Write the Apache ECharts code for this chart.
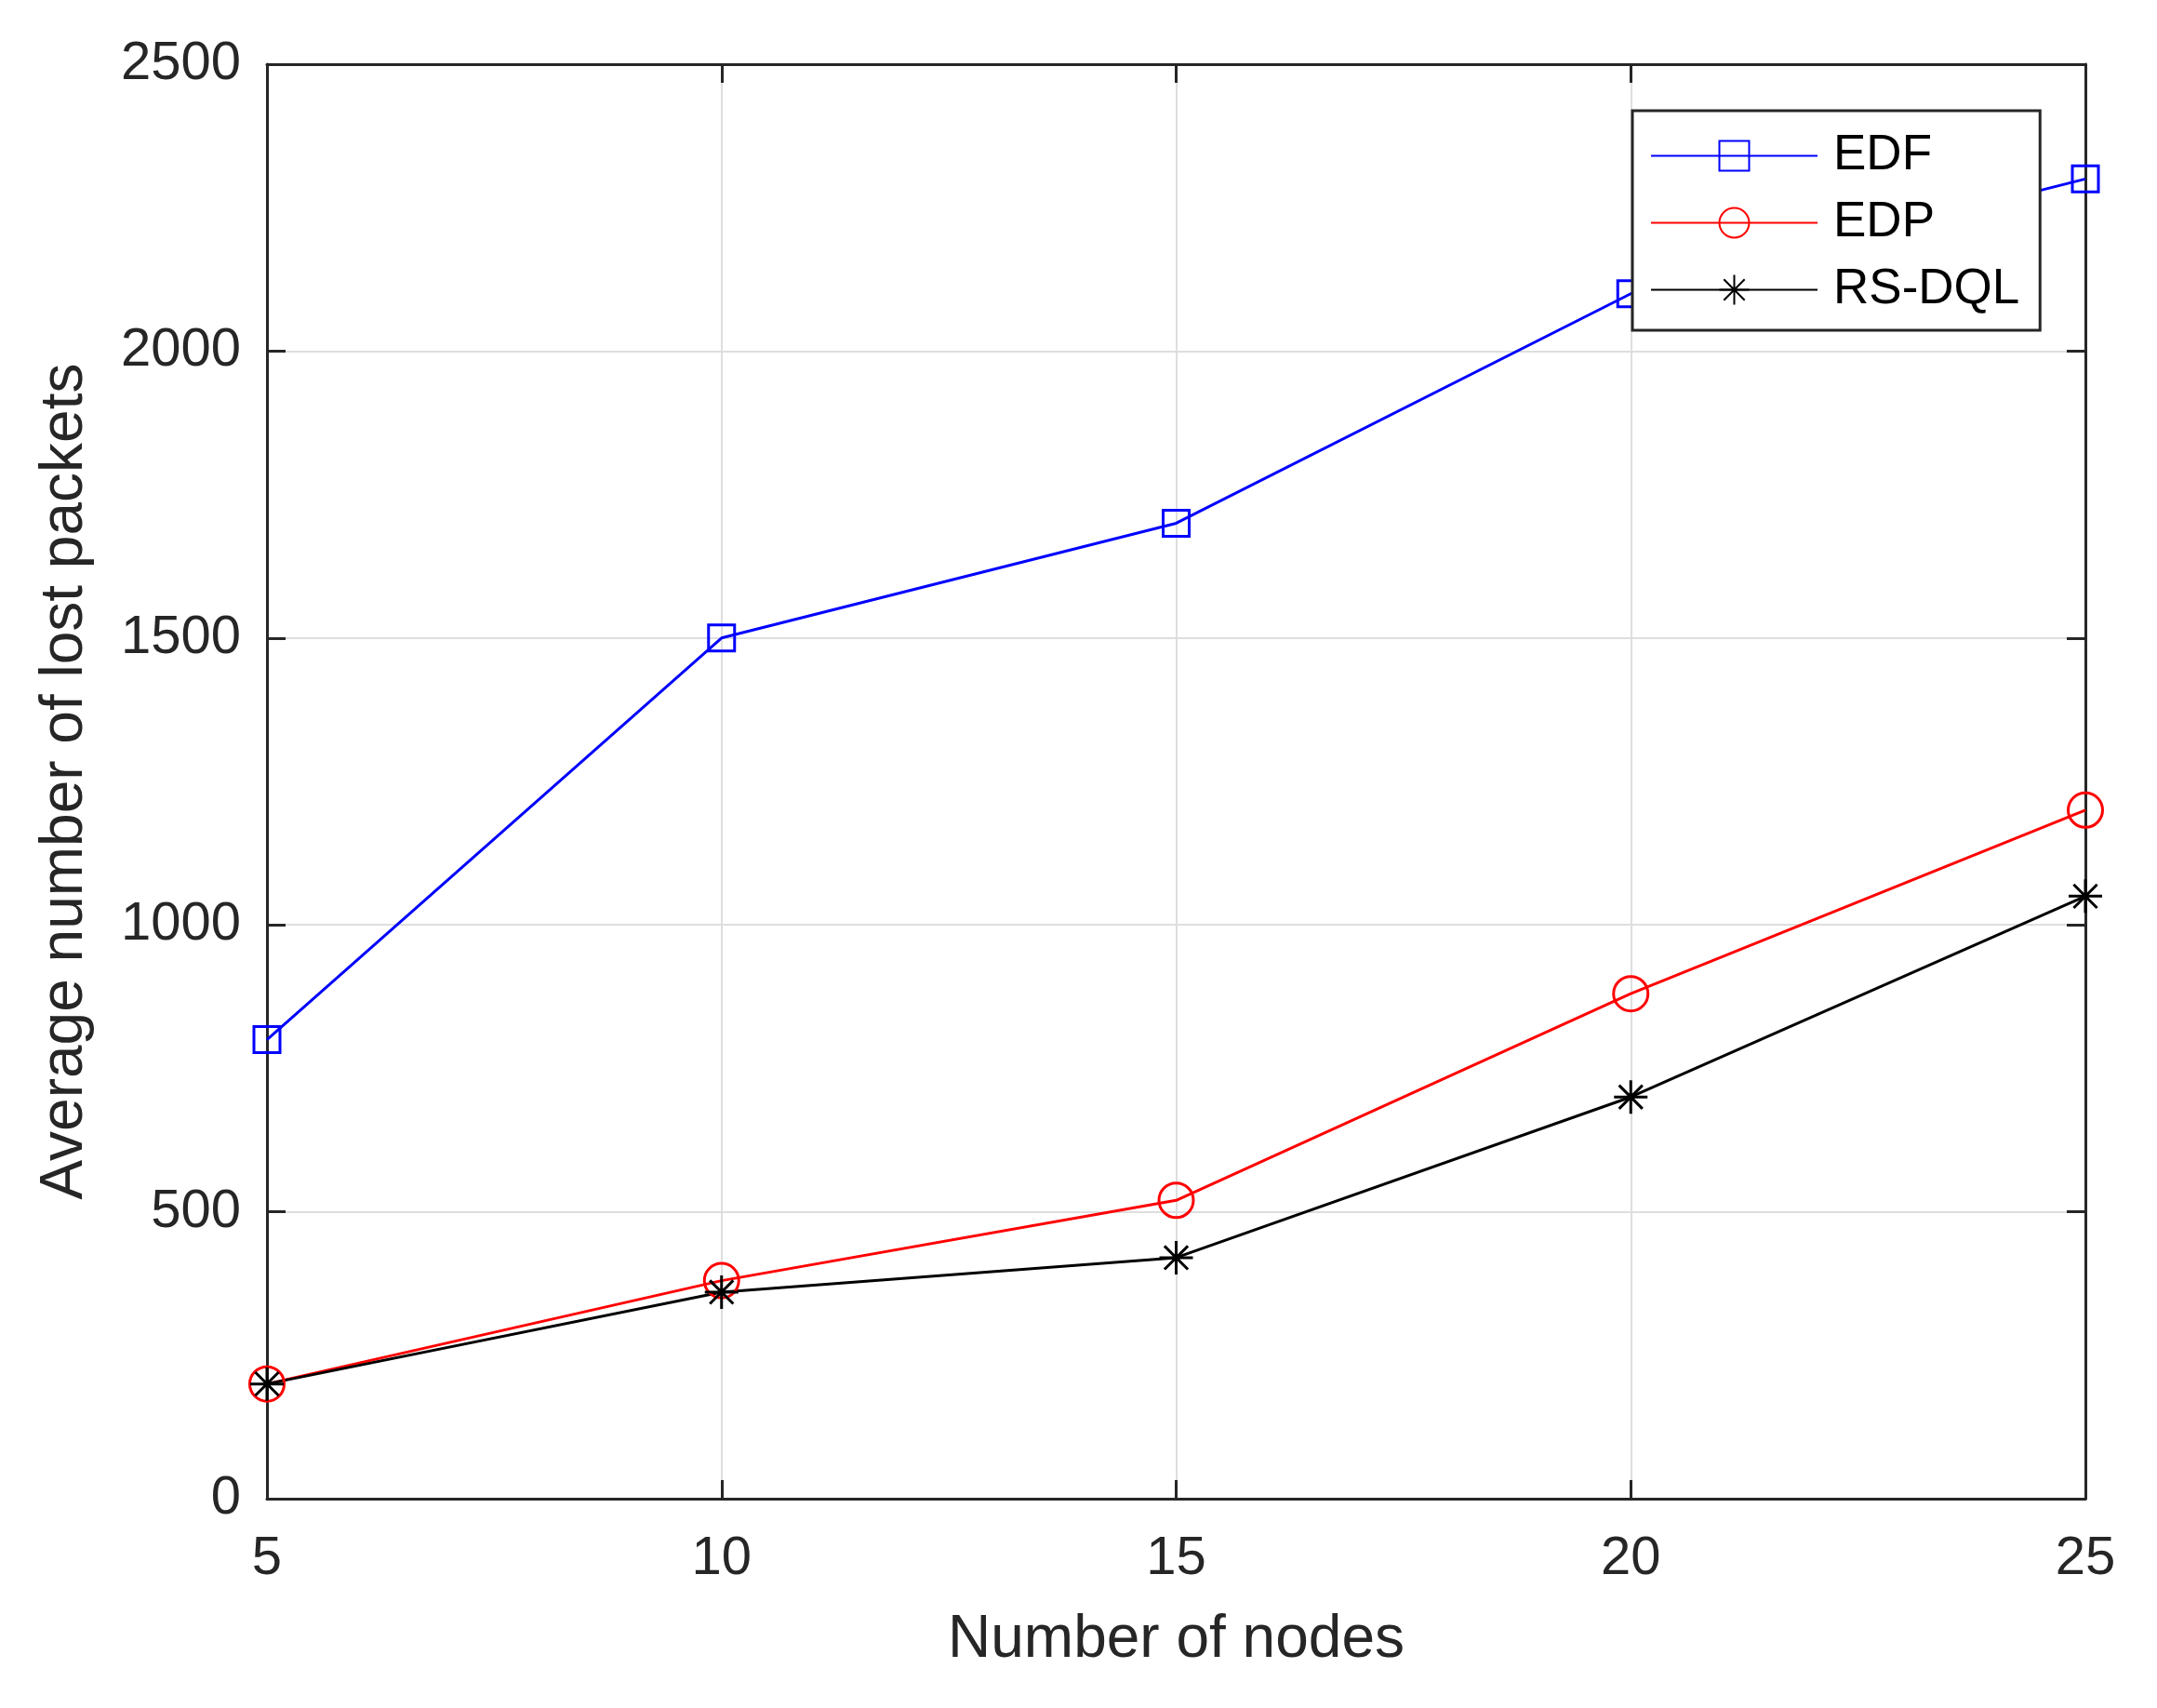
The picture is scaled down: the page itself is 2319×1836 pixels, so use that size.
<!DOCTYPE html>
<html>
<head>
<meta charset="utf-8">
<script src="https://cdn.jsdelivr.net/npm/echarts@6/dist/echarts.min.js"></script>
<style>
html,body{margin:0;padding:0;background:#fff;}
#chart{width:2319px;height:1836px;}
</style>
</head>
<body>
<div id="chart"></div>
<script>
var nodes = [5, 10, 15, 20, 25];
var edf = [800, 1500, 1700, 2100, 2300];
var edp = [200, 380, 520, 880, 1200];
var rsdql = [200, 360, 420, 700, 1050];
var seriesNames = ['EDF', 'EDP', 'RS-DQL'];

function pairs(xs, ys) { return xs.map(function (x, i) { return [x, ys[i]]; }); }

var FONT = '"Liberation Sans", Arial, Helvetica, sans-serif';
var AX = '#262626';
var STAR = 'path://M0 -10L0 10M-10 0L10 0M-7 -7L7 7M-7 7L7 -7';

var chart = echarts.init(document.getElementById('chart'), null, {renderer: 'canvas'});
var boxAxisLine = {show: true, onZero: false, lineStyle: {color: AX, width: 3}};
var boxTick = {show: true, inside: true, length: 20, lineStyle: {color: AX, width: 3}};
var plain = function (v) { return String(v); };
chart.setOption({
  backgroundColor: '#ffffff',
  animation: false,
  grid: {left: 287, right: 77, top: 69, bottom: 225, outerBoundsMode: 'none'},
  xAxis: [{
    type: 'value', min: 5, max: 25, interval: 5, position: 'bottom',
    name: 'Number of nodes', nameLocation: 'middle', nameGap: 120,
    nameTextStyle: {fontFamily: FONT, fontSize: 64, color: AX},
    axisLine: boxAxisLine, axisTick: boxTick,
    axisLabel: {fontFamily: FONT, fontSize: 58, color: AX, margin: 36, formatter: plain},
    splitLine: {show: true, lineStyle: {color: '#dedede', width: 2}}
  }, {
    type: 'value', min: 5, max: 25, interval: 5, position: 'top',
    axisLine: boxAxisLine, axisTick: boxTick, axisLabel: {show: false}, splitLine: {show: false}
  }],
  yAxis: [{
    type: 'value', min: 0, max: 2500, interval: 500, position: 'left',
    name: 'Average number of lost packets', nameLocation: 'middle', nameGap: 185,
    nameTextStyle: {fontFamily: FONT, fontSize: 64, color: AX},
    axisLine: boxAxisLine, axisTick: boxTick,
    axisLabel: {fontFamily: FONT, fontSize: 58, color: AX, margin: 28, formatter: plain},
    splitLine: {show: true, lineStyle: {color: '#dedede', width: 2}}
  }, {
    type: 'value', min: 0, max: 2500, interval: 500, position: 'right',
    axisLine: boxAxisLine, axisTick: boxTick, axisLabel: {show: false}, splitLine: {show: false}
  }],
  legend: {
    orient: 'vertical', left: 1755, top: 119,
    padding: [22, 22, 17, 19],
    itemWidth: 179, itemHeight: 40, itemGap: 19,
    backgroundColor: '#ffffff', borderColor: AX, borderWidth: 3,
    textStyle: {fontFamily: FONT, fontSize: 53, color: '#000', padding: [0, 0, 0, 12]},
    data: seriesNames
  },
  series: [{
    name: seriesNames[0], type: 'line', data: pairs(nodes, edf),
    symbol: 'rect', symbolSize: 28,
    lineStyle: {color: '#0000ff', width: 3},
    itemStyle: {color: 'rgba(0,0,0,0)', borderColor: '#0000ff', borderWidth: 3}
  }, {
    name: seriesNames[1], type: 'line', data: pairs(nodes, edp),
    symbol: 'circle', symbolSize: 37,
    lineStyle: {color: '#ff0000', width: 3},
    itemStyle: {color: 'rgba(0,0,0,0)', borderColor: '#ff0000', borderWidth: 3}
  }, {
    name: seriesNames[2], type: 'line', data: pairs(nodes, rsdql),
    symbol: STAR, symbolSize: 36,
    lineStyle: {color: '#000000', width: 3},
    itemStyle: {color: 'rgba(0,0,0,0)', borderColor: '#000000', borderWidth: 3}
  }]
});
</script>
</body>
</html>
